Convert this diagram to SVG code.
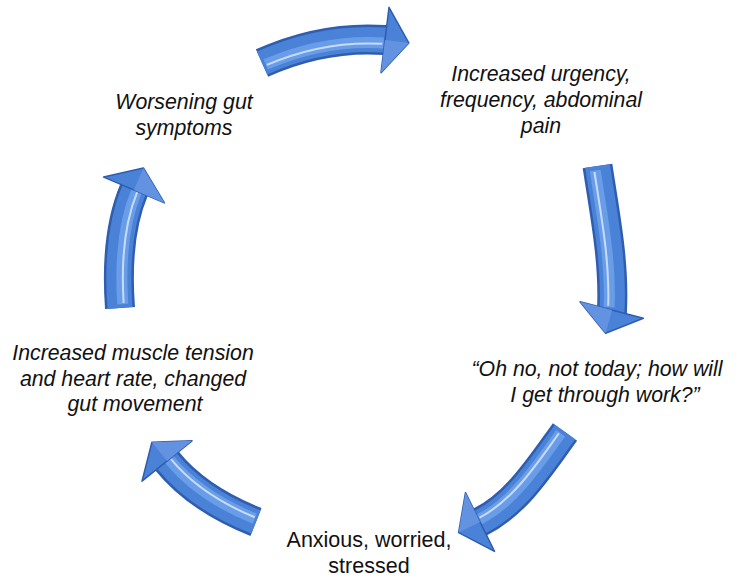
<svg xmlns="http://www.w3.org/2000/svg" width="745" height="581" viewBox="0 0 745 581">
<style>
.edge{fill:none;stroke:#2f5db0;stroke-width:30}
.main{fill:none;stroke:#4a82d8;stroke-width:25}
.band{fill:none;stroke:#6a9de8;stroke-width:11}
.hl{fill:none;stroke:#c6dcfa;stroke-width:2}
.head{fill:#4a82d8;stroke:#2f5db0;stroke-width:1.5;stroke-linejoin:round}
.facet{fill:#6393e0}
.t{font-family:"Liberation Sans",Arial,sans-serif;font-size:21.3px;font-style:italic;fill:#111;text-anchor:middle}
.u{font-style:normal;font-size:21.5px}
</style>
<defs>
<path id="b1" pathLength="100" d="M262,63 C300.2,45.8 343,37 385,40 l8,0.6"/>
<path id="b2" pathLength="100" d="M597.5,166 C604.7,213.5 614.4,262 612,310 l-0.4,8"/>
<path id="b3" pathLength="100" d="M565,432 C540.9,465.1 516.5,504 480,522 l-7,3.5"/>
<path id="b4" pathLength="100" d="M256,522 C222.5,508.7 189.7,489.1 167,461 l-5,-6"/>
<path id="b5" pathLength="100" d="M120,308 C117.1,268.1 118.4,226.8 134,190 l3,-7.4"/>
</defs>
<g id="connectors">
<g id="arrow1">
<use href="#b1" class="edge"/><use href="#b1" class="main"/>
<use href="#b1" class="band" transform="translate(0,3)" stroke-dasharray="0 3 90 7"/>
<use href="#b1" class="hl" transform="translate(0,4)" stroke-dasharray="0 4 88 8"/>
<polygon class="head" points="389,7.3 408.8,42.9 381,72.7"/>
<polygon class="facet" points="408.8,42.9 385,40 381,72.7"/>
</g>
<g id="arrow2">
<use href="#b2" class="edge"/><use href="#b2" class="main"/>
<use href="#b2" class="band" transform="translate(-3,0)" stroke-dasharray="0 3 90 7"/>
<use href="#b2" class="hl" transform="translate(-4,0)" stroke-dasharray="0 4 88 8"/>
<polygon class="head" points="580,301.7 605.6,333.2 643.4,318.3"/>
<polygon class="facet" points="580,301.7 605.6,333.2 612,310"/>
</g>
<g id="arrow3">
<use href="#b3" class="edge"/><use href="#b3" class="main"/>
<use href="#b3" class="band" transform="translate(-2,-2)" stroke-dasharray="0 3 90 7"/>
<use href="#b3" class="hl" transform="translate(-3,-3)" stroke-dasharray="0 4 88 8"/>
<polygon class="head" points="465.5,492.6 458.6,532.6 494.5,551.4"/>
<polygon class="facet" points="465.5,492.6 458.6,532.6 480,522"/>
</g>
<g id="arrow4">
<use href="#b4" class="edge"/><use href="#b4" class="main"/>
<use href="#b4" class="band" transform="translate(2,-2)" stroke-dasharray="0 3 90 7"/>
<use href="#b4" class="hl" transform="translate(3,-3)" stroke-dasharray="0 4 88 8"/>
<polygon class="head" points="192,440.8 151.9,442.3 142,481.2"/>
<polygon class="facet" points="192,440.8 151.9,442.3 167,461"/>
</g>
<g id="arrow5">
<use href="#b5" class="edge"/><use href="#b5" class="main"/>
<use href="#b5" class="band" transform="translate(3,0)" stroke-dasharray="0 3 90 7"/>
<use href="#b5" class="hl" transform="translate(4,0)" stroke-dasharray="0 4 88 8"/>
<polygon class="head" points="103.6,177.1 143.4,167.9 164.4,202.9"/>
<polygon class="facet" points="143.4,167.9 164.4,202.9 134,190"/>
</g>
</g>
<g id="node-worsening">
<text class="t" x="184" y="109">Worsening gut</text>
<text class="t" x="184" y="135">symptoms</text>
</g>
<g id="node-urgency">
<text class="t" x="541" y="81">Increased urgency,</text>
<text class="t" x="541" y="107">frequency, abdominal</text>
<text class="t" x="541" y="133">pain</text>
</g>
<g id="node-ohno">
<text class="t" x="597" y="376">“Oh no, not today; how will</text>
<text class="t" x="605" y="402">I get through work?”</text>
</g>
<g id="node-anxious">
<text class="t u" x="369" y="547">Anxious, worried,</text>
<text class="t u" x="369" y="573">stressed</text>
</g>
<g id="node-muscle">
<text class="t" x="133" y="360">Increased muscle tension</text>
<text class="t" x="133" y="385.5">and heart rate, changed</text>
<text class="t" x="135" y="411">gut movement</text>
</g>
</svg>
